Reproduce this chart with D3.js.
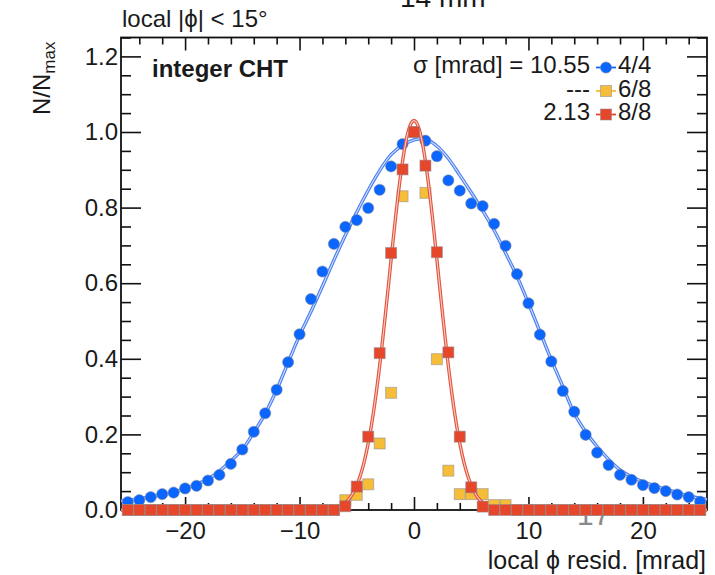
<!DOCTYPE html>
<html>
<head>
<meta charset="utf-8">
<script src="https://cdn.jsdelivr.net/npm/d3@7/dist/d3.min.js"></script>
<style>
  html, body { margin: 0; padding: 0; background: #fff; }
  svg { display: block; }
  text { font-family: "Liberation Sans", Arial, Helvetica, sans-serif; fill: #1a1a1a; }
</style>
</head>
<body>
<svg id="chart" width="715" height="575"></svg>
<script>
// Bin centres of the residual histogram [mrad]
const binCenters = [-25,-24,-23,-22,-21,-20,-19,-18,-17,-16,-15,-14,-13,-12,-11,-10,-9,-8,-7,-6,-5,-4,-3,-2,-1,
                    0,1,2,3,4,5,6,7,8,9,10,11,12,13,14,15,16,17,18,19,20,21,22,23,24,25];

// Normalised counts N/Nmax, one per bin
const hits44 = [0.021,0.026,0.034,0.042,0.046,0.057,0.064,0.078,0.093,0.122,0.160,0.207,0.256,0.318,0.391,0.465,0.558,0.631,0.704,0.749,0.767,0.799,0.847,0.909,0.968,
                1.000,0.977,0.936,0.872,0.845,0.811,0.804,0.757,0.699,0.624,0.547,0.464,0.393,0.315,0.260,0.199,0.152,0.119,0.093,0.080,0.066,0.058,0.050,0.041,0.034,0.022];
const hits68 = [0,0,0,0,0,0,0,0,0,0,0,0,0,0,0,0,0,0,0,0.026,0.040,0.068,0.176,0.310,0.830,
                1.000,0.839,0.399,0.104,0.042,0.042,0.042,0.013,0.013,0,0,0,0,0,0,0,0,0,0,0,0,0,0,0,0,0];
const hits88 = [0,0,0,0,0,0,0,0,0,0,0,0,0,0,0,0,0,0,0,0.010,0.062,0.194,0.415,0.680,0.901,
                1.000,0.911,0.682,0.417,0.194,0.060,0.009,0,0,0,0,0,0,0,0,0,0,0,0,0,0,0,0,0,0,0];

// Fit curve of the 4/4 sample, read as [x, N/Nmax] pairs
const fit44 = [[-25.6,0.024],[-25,0.026],[-24,0.030],[-23,0.035],[-22,0.040],[-21,0.047],[-20,0.057],[-19,0.068],
               [-18,0.082],[-17,0.103],[-16,0.130],[-15,0.160],[-14,0.205],[-13,0.255],[-12,0.318],[-11,0.390],
               [-10,0.462],[-9,0.525],[-8,0.592],[-7,0.661],[-6,0.727],[-5,0.788],[-4,0.846],[-3,0.898],[-2,0.940],
               [-1,0.965],[0,0.979],[1,0.981],[2,0.963],[3,0.930],[4,0.886],[5,0.840],[6,0.792],[7,0.740],[8,0.680],
               [9,0.618],[10,0.547],[11,0.472],[12,0.397],[13,0.327],[14,0.256],[15,0.207],[16,0.168],[17,0.134],
               [18,0.106],[19,0.088],[20,0.075],[21,0.064],[22,0.055],[23,0.046],[24,0.037],[25,0.031],[25.6,0.028]];

// Gaussian fit of the 8/8 sample
const fit88Amp = 1.03, fit88Mean = 0, fit88Sigma = 2.13;

// Legend entries
const legendRows = [
  { value: "σ [mrad] = 10.55", label: "4/4", key: "h44" },
  { value: "---",              label: "6/8", key: "h68" },
  { value: "2.13",             label: "8/8", key: "h88" }
];

const xMajor = [-20, -10, 0, 10, 20];
const xMinor = [-24,-22,-18,-16,-14,-12,-8,-6,-4,-2,2,4,6,8,12,14,16,18,22,24];
const yMajor = [0, 0.2, 0.4, 0.6, 0.8, 1.0, 1.2];
const yMinor = [0.05,0.1,0.15,0.25,0.3,0.35,0.45,0.5,0.55,0.65,0.7,0.75,0.85,0.9,0.95,1.05,1.1,1.15,1.25];

const colors = { h44: "#0a66ff", h68: "#f6bd38", h88: "#e6462a" };

const svg = d3.select("#chart");
const plotL = 121, plotR = 707, plotT = 37.5, plotB = 510;

const x = d3.scaleLinear().domain([-25.6, 25.6]).range([plotL, plotR]);
const y = d3.scaleLinear().domain([0, 1.25]).range([plotB, plotT]);

// Page number in the background
svg.append("text").attr("x", 577).attr("y", 525)
  .style("font-size", "30px").style("fill", "#8a8a8a").text("17");

// Axes: ticks on all four sides, pointing inward
function styleAxis(g) {
  g.select(".domain").remove();
  g.selectAll(".tick line").attr("stroke", "#111").attr("stroke-width", 1.6);
  g.selectAll("text").style("font-size", "24px").attr("fill", "#1a1a1a");
}
const fmtX = d => d < 0 ? "\u2212" + Math.abs(d) : String(d);

svg.append("g").attr("transform", `translate(0,${plotB})`)
  .call(d3.axisBottom(x).tickValues(xMajor).tickSize(-13).tickPadding(12).tickFormat(fmtX)).call(styleAxis);
svg.append("g").attr("transform", `translate(0,${plotB})`)
  .call(d3.axisBottom(x).tickValues(xMinor).tickSize(-7).tickFormat("")).call(styleAxis);
svg.append("g").attr("transform", `translate(0,${plotT})`)
  .call(d3.axisTop(x).tickValues(xMajor).tickSize(-13).tickFormat("")).call(styleAxis);
svg.append("g").attr("transform", `translate(0,${plotT})`)
  .call(d3.axisTop(x).tickValues(xMinor).tickSize(-7).tickFormat("")).call(styleAxis);

svg.append("g").attr("transform", `translate(${plotL},0)`)
  .call(d3.axisLeft(y).tickValues(yMajor).tickSize(-20).tickPadding(3).tickFormat(d3.format(".1f"))).call(styleAxis);
svg.append("g").attr("transform", `translate(${plotL},0)`)
  .call(d3.axisLeft(y).tickValues(yMinor).tickSize(-10).tickFormat("")).call(styleAxis);
svg.append("g").attr("transform", `translate(${plotR},0)`)
  .call(d3.axisRight(y).tickValues(yMajor).tickSize(-20).tickFormat("")).call(styleAxis);
svg.append("g").attr("transform", `translate(${plotR},0)`)
  .call(d3.axisRight(y).tickValues(yMinor).tickSize(-10).tickFormat("")).call(styleAxis);

// Frame
svg.append("rect").attr("x", plotL).attr("y", plotT)
  .attr("width", plotR - plotL).attr("height", plotB - plotT)
  .attr("fill", "none").attr("stroke", "#111").attr("stroke-width", 1.8);

// Fit curves drawn as a coloured band with a pale core
function drawFit(points, outer, inner, curve) {
  const line = d3.line().x(d => x(d[0])).y(d => y(d[1])).curve(curve);
  svg.append("path").datum(points).attr("d", line)
    .attr("fill", "none").attr("stroke", outer).attr("stroke-width", 3.4).attr("stroke-linejoin", "round");
  svg.append("path").datum(points).attr("d", line)
    .attr("fill", "none").attr("stroke", inner).attr("stroke-width", 1.1);
}

const markerStroke = "rgba(140,140,150,0.55)";
const sq = 11;

function drawCircles(vals, color) {
  svg.append("g").selectAll("circle").data(binCenters.map((c, i) => [c, vals[i]])).join("circle")
    .attr("cx", d => x(d[0])).attr("cy", d => y(d[1])).attr("r", 5.6)
    .attr("fill", color).attr("stroke", markerStroke).attr("stroke-width", 1);
}
function drawSquares(vals, color) {
  svg.append("g").selectAll("rect").data(binCenters.map((c, i) => [c, vals[i]])).join("rect")
    .attr("x", d => x(d[0]) - sq / 2).attr("y", d => y(d[1]) - sq / 2)
    .attr("width", sq).attr("height", sq)
    .attr("fill", color).attr("stroke", markerStroke).attr("stroke-width", 1);
}

drawFit(fit44, "#4a7ff2", "#d3e0ff", d3.curveCatmullRom);
drawCircles(hits44, colors.h44);
drawSquares(hits68, colors.h68);

const fit88 = d3.range(-25.6, 25.601, 0.05).map(v =>
  [v, fit88Amp * Math.exp(-((v - fit88Mean) ** 2) / (2 * fit88Sigma * fit88Sigma))]);
drawFit(fit88, "#e2553f", "#f9cfc4", d3.curveLinear);
drawSquares(hits88, colors.h88);

// Legend
const legX = 606, rowBase = [73, 96.5, 120];
legendRows.forEach((r, i) => {
  const by = rowBase[i], cy = by - 5.5;
  svg.append("text").attr("x", 590).attr("y", by).attr("text-anchor", "end")
    .style("font-size", "24px").text(r.value);
  svg.append("line").attr("x1", legX - 10).attr("x2", legX + 10).attr("y1", cy).attr("y2", cy)
    .attr("stroke", colors[r.key]).attr("stroke-width", 1.8);
  if (r.key === "h44") {
    svg.append("circle").attr("cx", legX).attr("cy", cy).attr("r", 5.6)
      .attr("fill", colors[r.key]).attr("stroke", markerStroke);
  } else {
    svg.append("rect").attr("x", legX - sq / 2).attr("y", cy - sq / 2).attr("width", sq).attr("height", sq)
      .attr("fill", colors[r.key]).attr("stroke", markerStroke);
  }
  svg.append("text").attr("x", 618).attr("y", by).style("font-size", "24px").text(r.label);
});

// Annotations
svg.append("text").attr("x", 152).attr("y", 77)
  .style("font-size", "24px").style("font-weight", "bold").text("integer CHT");
svg.append("text").attr("x", 122).attr("y", 27)
  .style("font-size", "24px").text("local |ϕ| < 15°");
svg.append("text").attr("x", 400).attr("y", 7)
  .style("font-size", "28px").text("14 mm");

// Axis titles
svg.append("text").attr("x", 706).attr("y", 569).attr("text-anchor", "end")
  .style("font-size", "25px").text("local ϕ resid. [mrad]");
const yTitle = svg.append("text").attr("transform", "translate(50,115) rotate(-90)")
  .style("font-size", "24px");
yTitle.append("tspan").text("N/N");
yTitle.append("tspan").attr("dy", 5).style("font-size", "17px").text("max");
</script>
</body>
</html>
